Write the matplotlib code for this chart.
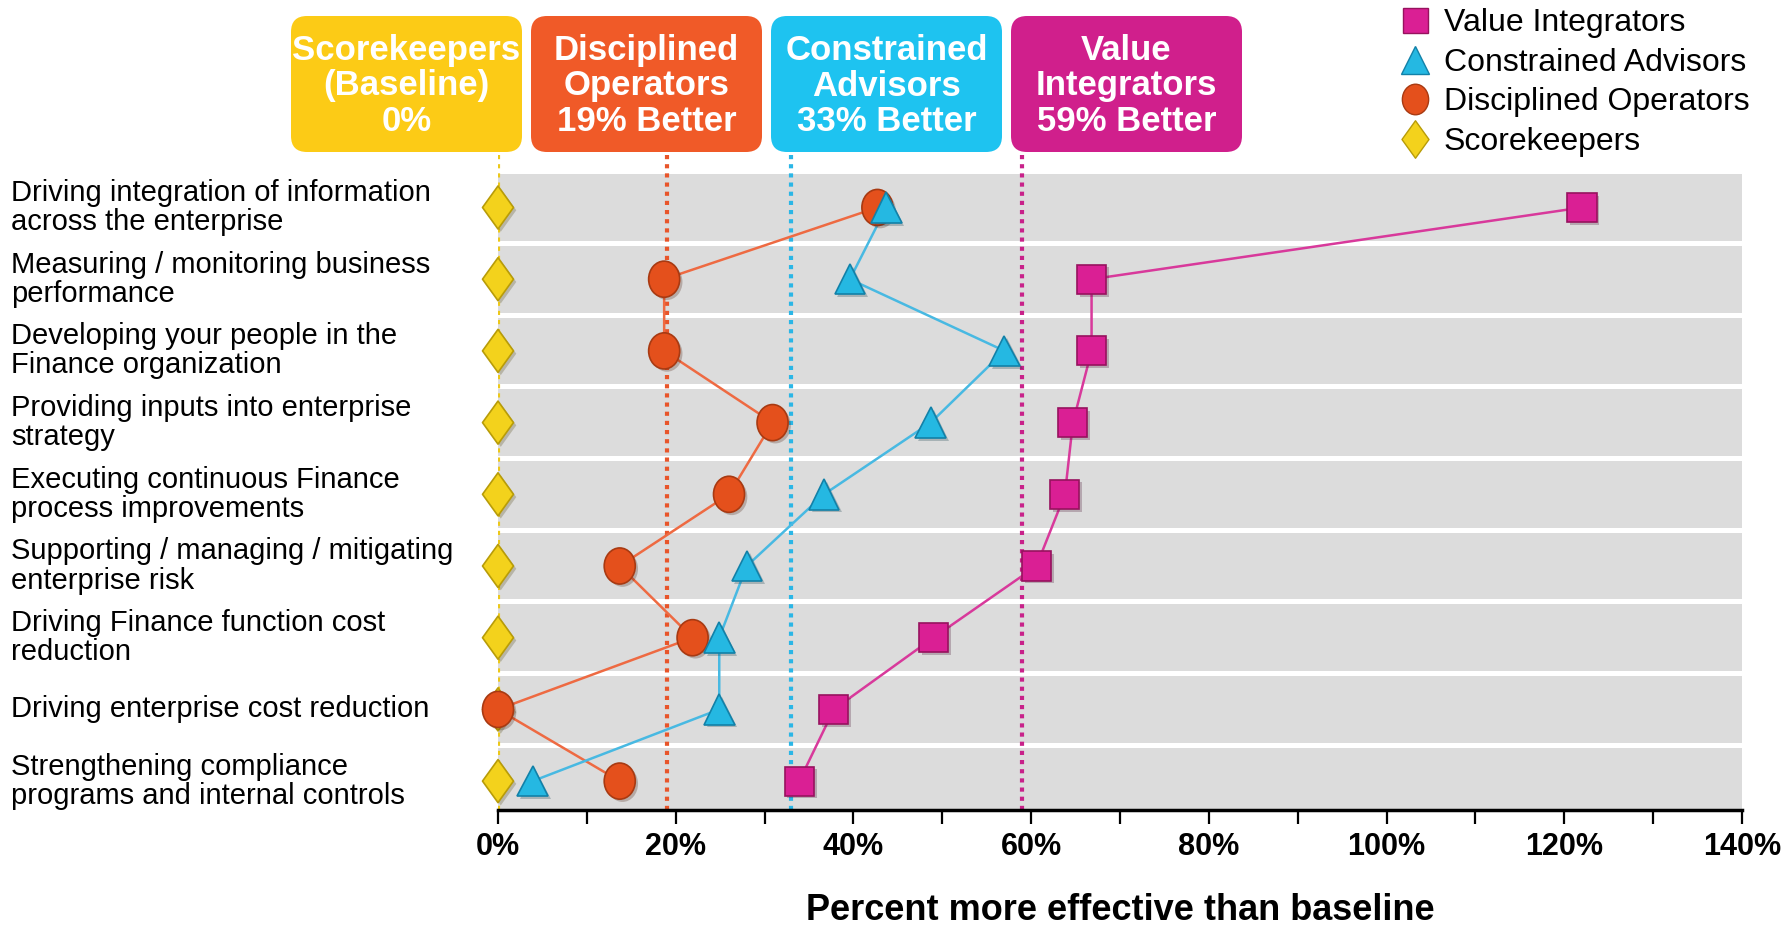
import matplotlib.pyplot as plt
from matplotlib.patches import FancyBboxPatch
from matplotlib.lines import Line2D
from matplotlib.path import Path
from matplotlib import transforms
import matplotlib.patheffects as pe

plt.rcParams['font.family'] = ['Liberation Sans', 'DejaVu Sans']

# finance activities, top to bottom
activities = [
    "Driving integration of information\nacross the enterprise",
    "Measuring / monitoring business\nperformance",
    "Developing your people in the\nFinance organization",
    "Providing inputs into enterprise\nstrategy",
    "Executing continuous Finance\nprocess improvements",
    "Supporting / managing / mitigating\nenterprise risk",
    "Driving Finance function cost\nreduction",
    "Driving enterprise cost reduction",
    "Strengthening compliance\nprograms and internal controls",
]

# percent more effective than the Scorekeepers baseline
scorekeepers = [0, 0, 0, 0, 0, 0, 0, 0, 0]
disciplined = [42.7, 18.7, 18.7, 30.9, 26.0, 13.7, 21.9, 0.0, 13.7]
constrained = [43.7, 39.6, 57.0, 48.7, 36.7, 28.0, 24.9, 24.9, 3.9]
integrators = [122.0, 66.8, 66.8, 64.7, 63.8, 60.6, 49.0, 37.8, 33.9]

# segment averages shown in the header boxes
segment_titles = ["Scorekeepers\n(Baseline)", "Disciplined\nOperators",
                  "Constrained\nAdvisors", "Value\nIntegrators"]
segment_avg = [0, 19, 33, 59]

legend_names = ["Value Integrators", "Constrained Advisors",
                "Disciplined Operators", "Scorekeepers"]
x_ticks = list(range(0, 141, 10))

YELLOW, ORANGE, CYAN, MAGENTA = "#fccb16", "#f05a28", "#1ec3f0", "#d01f8c"
box_colors = [YELLOW, ORANGE, CYAN, MAGENTA]
dot_colors = ["#ecc81a", "#e8552a", "#2bb6e6", "#c8228a"]

# slightly tall diamond and ellipse markers
tall_diamond = Path([(0, 1), (0.72, 0), (0, -1), (-0.72, 0), (0, 1)],
                    [Path.MOVETO, Path.LINETO, Path.LINETO, Path.LINETO, Path.CLOSEPOLY])
circ = Path.unit_circle()
tall_ellipse = Path(circ.vertices * [0.86, 1.0], circ.codes)

W, H = 1788, 925
fig = plt.figure(figsize=(W / 100, H / 100), dpi=100)
ax = fig.add_axes([498 / W, 1 - 810 / H, (1742 - 498) / W, (810 - 154) / H])

rows = list(range(len(activities)))
for i in rows:
    ax.axhspan(i - 0.465, i + 0.465, color="#dcdcdc", lw=0, zorder=0)

for v, c in zip(segment_avg, dot_colors):
    ax.axvline(v, color=c, ls=(0, (1, 1.2)), lw=3, zorder=1)

shadow = [pe.SimplePatchShadow(offset=(2, -2), alpha=0.25), pe.Normal()]

ax.plot(disciplined, rows, color="#ee6a42", lw=1.8, zorder=2)
ax.plot(constrained, rows, color="#48b9e2", lw=1.8, zorder=2)
ax.plot(integrators, rows, color="#d8399b", lw=1.8, zorder=2)

ax.plot(scorekeepers, rows, ls="none", marker=tall_diamond, ms=31, mfc="#f3d21c",
        mec="#b89c08", mew=1.2, zorder=3, path_effects=shadow, clip_on=False)
ax.plot(disciplined, rows, ls="none", marker=tall_ellipse, ms=26, mfc="#e4501c",
        mec="#a83a12", mew=1.2, zorder=4, path_effects=shadow, clip_on=False)
ax.plot(constrained, rows, ls="none", marker="^", ms=22, mfc="#25b8e2",
        mec="#1281a8", mew=1.2, zorder=5, path_effects=shadow, clip_on=False)
ax.plot(integrators, rows, ls="none", marker="s", ms=21, mfc="#da1f94",
        mec="#97125e", mew=1.2, zorder=6, path_effects=shadow, clip_on=False)

ax.set_xlim(0, 140)
ax.set_ylim(8.403, -0.746)
ax.set_yticks([])
ax.set_xticks(x_ticks)
ax.set_xticklabels([f"{v}%" if v % 20 == 0 else "" for v in x_ticks],
                   fontsize=22, fontweight="bold")
ax.tick_params(axis="x", length=10, width=1.6, pad=6, direction="out")
for side in ["top", "left", "right"]:
    ax.spines[side].set_visible(False)
ax.spines["bottom"].set_linewidth(2.5)
ax.set_facecolor("none")
ax.set_xlabel("Percent more effective than baseline", fontsize=26,
              fontweight="bold", labelpad=22)

# row labels flush to the left edge of the figure
trans = transforms.blended_transform_factory(fig.transFigure, ax.transData)
for i, label in enumerate(activities):
    ax.text(11 / W, i, label, transform=trans, ha="left", va="center",
            fontsize=21, linespacing=1.05)

# header boxes in pixel coordinates
ov = fig.add_axes([0, 0, 1, 1], zorder=-1)
ov.set_xlim(0, W)
ov.set_ylim(H, 0)
ov.axis("off")
box_left = [291, 531, 771, 1011]
box_w, box_top, box_h, r = 231, 16, 136, 16
for x0, title, avg, c in zip(box_left, segment_titles, segment_avg, box_colors):
    ov.add_patch(FancyBboxPatch((x0 + r, box_top + r), box_w - 2 * r, box_h - 2 * r,
                                boxstyle=f"round,pad={r}", fc=c, ec="none"))
    suffix = f"{avg}%" if avg == 0 else f"{avg}% Better"
    ov.text(x0 + box_w / 2, box_top + box_h / 2 + 2, f"{title}\n{suffix}",
            ha="center", va="center", color="white", fontsize=25,
            fontweight="bold", linespacing=1.08)

handles = [
    Line2D([], [], ls="none", marker="s", ms=18, mfc="#da1f94", mec="#97125e"),
    Line2D([], [], ls="none", marker="^", ms=20, mfc="#25b8e2", mec="#1281a8"),
    Line2D([], [], ls="none", marker=tall_ellipse, ms=22, mfc="#e4501c", mec="#a83a12"),
    Line2D([], [], ls="none", marker=tall_diamond, ms=27, mfc="#f3d21c", mec="#b89c08"),
]
fig.legend(handles, legend_names, loc="upper left", bbox_to_anchor=(1396 / W, 1 - 5 / H),
           frameon=False, fontsize=23, handlelength=1.0, handletextpad=0.4,
           labelspacing=0.30, borderpad=0.1, borderaxespad=0)

fig.savefig("out.png", dpi=100, facecolor="white")
